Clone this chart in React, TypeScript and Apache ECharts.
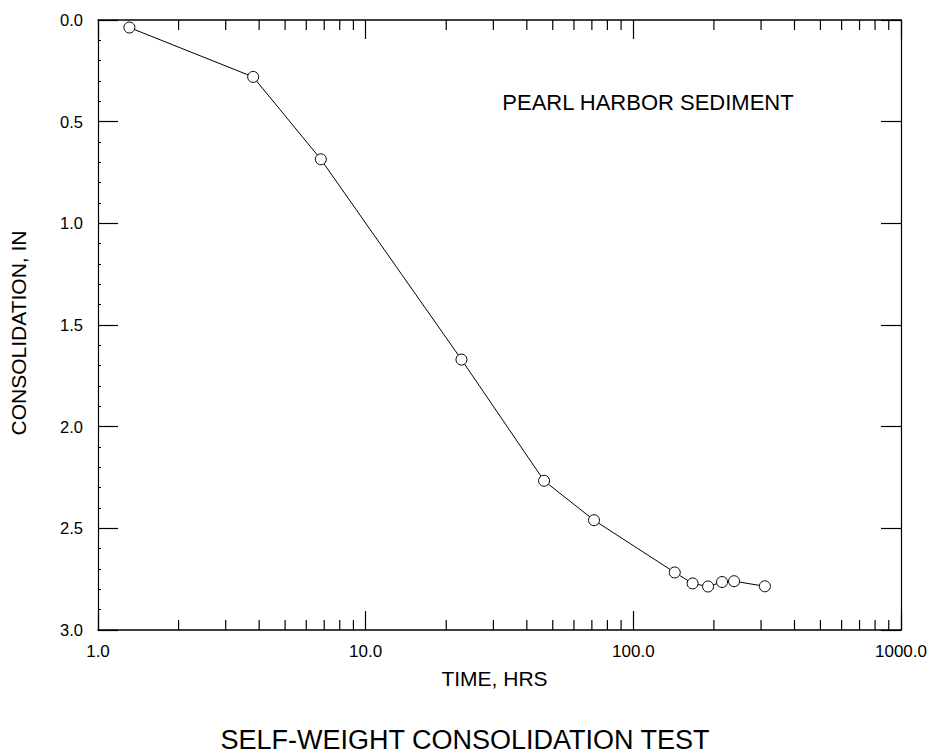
import React, { useEffect, useRef } from "react";
import * as echarts from "echarts";

const TIME_HRS = [1.31, 3.8, 6.8, 22.8, 46.4, 71.3, 142.8, 166.5, 190.2, 214.5, 237.8, 310];
const CONSOLIDATION_IN = [0.037, 0.28, 0.685, 1.67, 2.266, 2.46, 2.717, 2.771, 2.786, 2.764, 2.76, 2.785];
const MINOR_X_TICKS = [2, 3, 4, 5, 6, 7, 8, 9, 20, 30, 40, 50, 60, 70, 80, 90, 200, 300, 400, 500, 600, 700, 800, 900];
const X_MIN = 1;
const X_MAX = 1000;
const Y_MIN = 0;
const Y_MAX = 3;
const Y_STEP = 0.5;

const TITLE = "SELF-WEIGHT CONSOLIDATION TEST";
const ANNOTATION = "PEARL HARBOR SEDIMENT";
const X_NAME = "TIME, HRS";
const Y_NAME = "CONSOLIDATION, IN";

const FONT = "'Liberation Sans', Arial, sans-serif";

export default function App() {
  const ref = useRef<HTMLDivElement>(null);

  useEffect(() => {
    if (!ref.current) return;
    const chart = echarts.init(ref.current, undefined, { renderer: "svg" });
    const points = TIME_HRS.map((t, i) => [t, CONSOLIDATION_IN[i]]);
    const gridRect = { left: 97.5, top: 20, width: 805, height: 610 };

    const xCommon = {
      type: "log" as const,
      logBase: 10,
      min: X_MIN,
      max: X_MAX,
      splitLine: { show: false },
      axisLine: { show: true, onZero: false, lineStyle: { color: "#000", width: 1.5 } },
    };
    const yCommon = {
      type: "value" as const,
      min: Y_MIN,
      max: Y_MAX,
      interval: Y_STEP,
      inverse: true,
      splitLine: { show: false },
      axisLine: { show: true, onZero: false, lineStyle: { color: "#000", width: 1.2 } },
    };

    chart.setOption({
      animation: false,
      backgroundColor: "#fff",
      textStyle: { fontFamily: FONT },
      grid: { ...gridRect, containLabel: false },
      xAxis: [
        {
          ...xCommon,
          position: "bottom",
          axisTick: { show: true, inside: true, length: 19, lineStyle: { color: "#000", width: 1.2 } },
          axisLabel: {
            show: true,
            margin: 13,
            color: "#000",
            fontSize: 17,
            fontFamily: FONT,
            formatter: (v: number) => v.toFixed(1),
          },
          name: X_NAME,
          nameLocation: "middle",
          nameGap: 38,
          nameTextStyle: { color: "#000", fontSize: 21, fontFamily: FONT, padding: [0, 10, 0, 0] },
        },
        {
          ...xCommon,
          position: "top",
          axisTick: { show: true, inside: true, length: 19, lineStyle: { color: "#000", width: 1.2 } },
          axisLabel: { show: false },
        },
      ],
      yAxis: [
        {
          ...yCommon,
          position: "left",
          axisTick: { show: true, inside: true, length: 20, lineStyle: { color: "#000", width: 1.2 } },
          minorTick: { show: true, splitNumber: 5, length: 3, lineStyle: { color: "#000", width: 1 } },
          axisLabel: {
            show: true,
            margin: 15,
            color: "#000",
            fontSize: 16.5,
            fontFamily: FONT,
            formatter: (v: number) => v.toFixed(1),
          },
          name: Y_NAME,
          nameLocation: "middle",
          nameGap: 69,
          nameTextStyle: { color: "#000", fontSize: 21, fontFamily: FONT, padding: [0, 16, 0, 0] },
        },
        {
          ...yCommon,
          position: "right",
          axisTick: { show: true, inside: true, length: 20, lineStyle: { color: "#000", width: 1.2 } },
          axisLabel: { show: false },
        },
      ],
      graphic: [
        {
          type: "text",
          x: 465,
          y: 740,
          style: {
            text: TITLE,
            fontSize: 27,
            fontFamily: FONT,
            fill: "#000",
            align: "center",
            verticalAlign: "middle",
          },
        },
        {
          type: "text",
          x: 648,
          y: 102,
          style: {
            text: ANNOTATION,
            fontSize: 22,
            fontFamily: FONT,
            fill: "#000",
            align: "center",
            verticalAlign: "middle",
          },
        },
      ],
      series: [
        {
          type: "line",
          xAxisIndex: 0,
          yAxisIndex: 0,
          data: points,
          symbol: "circle",
          symbolSize: 11,
          showSymbol: true,
          itemStyle: { color: "#fff", borderColor: "#000", borderWidth: 1 },
          lineStyle: { color: "#000", width: 1 },
          z: 3,
        },
        {
          type: "custom",
          xAxisIndex: 0,
          yAxisIndex: 0,
          silent: true,
          data: MINOR_X_TICKS.map((v) => [v, Y_MIN]),
          renderItem: (params: any, api: any) => {
            const v = api.value(0);
            const bottom = api.coord([v, Y_MAX]);
            const top = api.coord([v, Y_MIN]);
            const style = { stroke: "#000", lineWidth: 1.2 };
            return {
              type: "group",
              children: [
                { type: "line", shape: { x1: bottom[0], y1: bottom[1], x2: bottom[0], y2: bottom[1] - 10 }, style },
                { type: "line", shape: { x1: top[0], y1: top[1], x2: top[0], y2: top[1] + 10 }, style },
              ],
            };
          },
          z: 2,
        },
      ],
    });

    return () => chart.dispose();
  }, []);

  return (
    <div
      ref={ref}
      style={{ position: "absolute", left: 0, top: 0, width: 930, height: 756, background: "#fff" }}
    />
  );
}
